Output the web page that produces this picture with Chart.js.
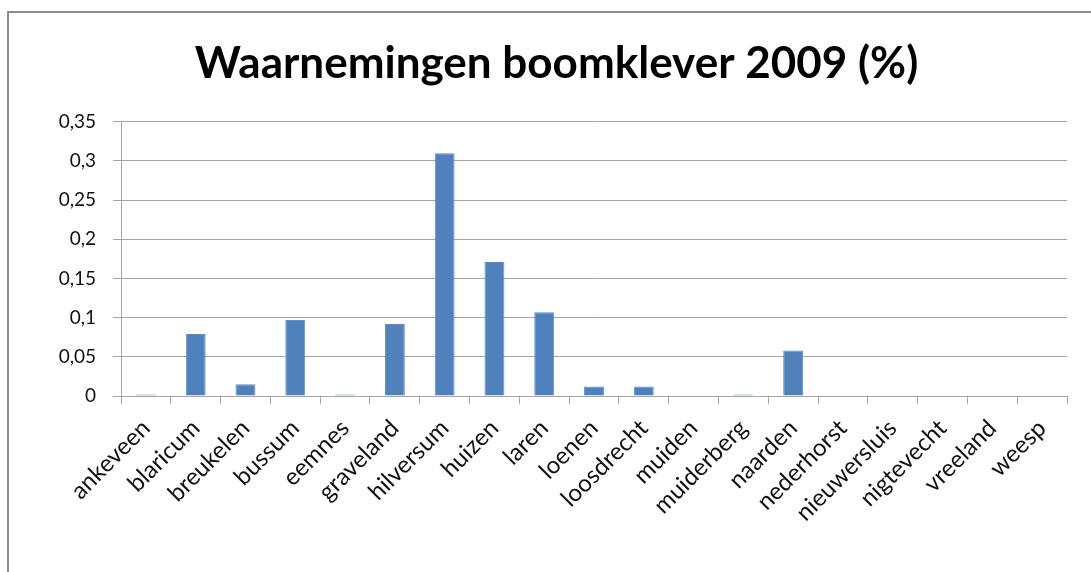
<!DOCTYPE html>
<html>
<head>
<meta charset="utf-8">
<script src="https://cdn.jsdelivr.net/npm/chart.js@4/dist/chart.umd.min.js"></script>
<style>
  body { margin: 0; background: #fff; overflow: hidden; }
  #frame { position: absolute; left: 7px; top: 11px; width: 1200px; height: 800px; border: 2px solid #8e8e8e; }
  #chart { position: absolute; left: 0; top: 0; }
</style>
</head>
<body>
<div id="frame"></div>
<canvas id="chart" width="1091" height="572"></canvas>
<script>
// Waarnemingen boomklever 2009, per plaats (%)
const places = ["ankeveen", "blaricum", "breukelen", "bussum", "eemnes", "graveland", "hilversum", "huizen", "laren", "loenen", "loosdrecht", "muiden", "muiderberg", "naarden", "nederhorst", "nieuwersluis", "nigtevecht", "vreeland", "weesp"];
const percentages = [0.002, 0.079, 0.015, 0.097, 0.002, 0.092, 0.31, 0.171, 0.107, 0.012, 0.012, 0, 0.002, 0.058, 0, 0, 0, 0, 0];
const yTicks = [0, 0.05, 0.1, 0.15, 0.2, 0.25, 0.3, 0.35];

const gridGrey = "#a5a5a5";

function commaLabel(v) {
  return String(Number(v.toFixed(2))).replace(".", ",");
}

const ctx = document.getElementById("chart").getContext("2d");
new Chart(ctx, {
  type: "bar",
  data: {
    labels: places,
    datasets: [{
      data: percentages,
      backgroundColor: "#4f81bd",
      borderColor: "#5d8dc7",
      borderWidth: 1,
      barPercentage: 0.4,
      categoryPercentage: 1
    }]
  },
  options: {
    responsive: false,
    animation: false,
    devicePixelRatio: 1,
    layout: { padding: { left: 46, right: 24, top: 0, bottom: 0 } },
    plugins: {
      legend: { display: false },
      tooltip: { enabled: false },
      title: {
        display: true,
        text: "Waarnemingen boomklever 2009 (%)",
        color: "#000",
        font: { family: "Lato", size: 44, weight: "bold" },
        padding: { top: 37, bottom: 32 }
      }
    },
    scales: {
      x: {
        afterFit: s => { s.height = 176; },
        grid: { offset: true, drawOnChartArea: false, color: gridGrey, tickLength: 8 },
        border: { color: gridGrey },
        ticks: { autoSkip: false, maxRotation: 45, minRotation: 45, color: "#111", font: { family: "Lato", size: 24 }, padding: 10 }
      },
      y: {
        min: 0,
        max: 0.35,
        afterFit: s => { s.width = 75; },
        afterBuildTicks: s => { s.ticks = yTicks.map(v => ({ value: v })); },
        grid: { color: gridGrey, tickLength: 8 },
        border: { color: gridGrey },
        ticks: { color: "#111", font: { family: "Lato", size: 19 }, padding: 17, callback: v => commaLabel(v) }
      }
    }
  }
});
</script>
</body>
</html>
